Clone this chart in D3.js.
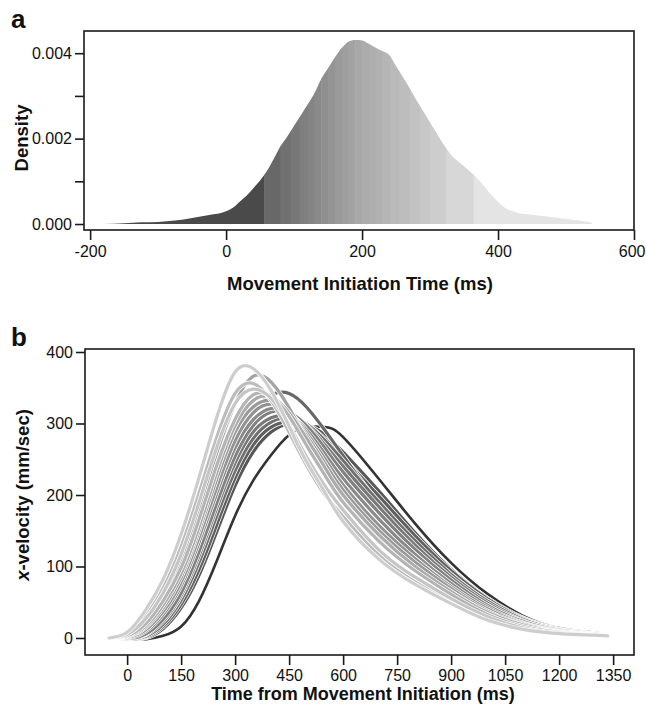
<!DOCTYPE html>
<html>
<head>
<meta charset="utf-8">
<script src="https://cdn.jsdelivr.net/npm/d3@7"></script>
<style>
  html, body { margin: 0; padding: 0; background: #fff; }
  svg text { font-family: "Liberation Sans", Arial, sans-serif; fill: #111; }
</style>
</head>
<body>
<svg id="chart" width="646" height="706"></svg>
<script>
// ---------- Panel a: density of movement initiation time ----------
const densityTimes = [-180, -150, -125, -100, -75, -50, -25, 0, 10, 20, 30, 40, 50, 60, 70, 80, 90, 100,
  110, 120, 130, 140, 150, 160, 170, 180, 190, 200, 210, 220, 230, 240, 250, 260, 270, 280, 290, 300,
  310, 320, 330, 340, 350, 360, 370, 380, 390, 400, 410, 420, 430, 450, 475, 500, 520, 538];
const densityValues = [0.00000, 0.00002, 0.00004, 0.00005, 0.00008, 0.00014, 0.00021, 0.00030, 0.00038,
  0.00052, 0.00066, 0.00084, 0.00102, 0.00124, 0.00152, 0.00182, 0.00205, 0.00230, 0.00255, 0.00280,
  0.00306, 0.00340, 0.00365, 0.00390, 0.00412, 0.00427, 0.00431, 0.00430, 0.00422, 0.00413, 0.00405,
  0.00396, 0.00370, 0.00344, 0.00318, 0.00290, 0.00264, 0.00238, 0.00212, 0.00186, 0.00164, 0.00148,
  0.00135, 0.00121, 0.00106, 0.00088, 0.00068, 0.00052, 0.00038, 0.00031, 0.00026, 0.00022, 0.00017,
  0.00012, 0.00008, 0.00003];
// band edges of the shaded initiation-time bins
const bandEdges = [-180, 56, 80, 95, 108, 120, 130, 140, 150, 160, 170, 180, 190, 200, 210, 220, 230,
  242, 255, 270, 285, 300, 324, 364, 540];
const densityTicksX = [-200, 0, 200, 400, 600];
const densityTicksY = [0, 0.001, 0.002, 0.003, 0.004];
const densityLabeledY = [0, 0.002, 0.004];

// ---------- Panel b: x-velocity profiles ----------
const velTimes = [-50, 0, 50, 100, 150, 200, 250, 300, 350, 400, 450, 500, 550, 600, 700, 800, 900, 1000, 1100, 1200, 1335];
// rank of initiation-time bin for each curve (0 = earliest / darkest)
const curveBins = [0, 1, 2, 3, 4, 5, 6, 7, 8, 9, 10, 11, 12, 13, 14, 15];
const curveValues = [
  [0, -2, -2, 3, 16, 52, 109, 171, 220, 256, 284, 295, 295, 281, 222, 160, 105, 62, 31, 14, 5],
  [0, -2, 0, 13, 42, 88, 150, 213, 260, 288, 300, 298, 284, 260, 205, 147, 96, 56, 28, 13, 5],
  [0, -2, 1, 16, 47, 96, 160, 224, 270, 295, 303, 298, 278, 252, 198, 143, 94, 55, 27, 12, 5],
  [0, 0, 7, 30, 70, 131, 202, 268, 316, 340, 342, 322, 290, 255, 188, 135, 88, 51, 25, 12, 4],
  [0, -2, 2, 19, 53, 106, 172, 234, 279, 302, 308, 299, 276, 248, 190, 136, 89, 52, 26, 12, 4],
  [0, -1, 4, 23, 59, 115, 183, 245, 288, 308, 311, 297, 270, 240, 183, 130, 85, 49, 24, 11, 4],
  [0, -1, 5, 26, 63, 121, 190, 254, 297, 316, 315, 296, 265, 232, 175, 124, 81, 46, 23, 11, 4],
  [0, 0, 9, 33, 73, 134, 204, 266, 305, 321, 314, 290, 257, 223, 166, 117, 76, 43, 21, 10, 4],
  [0, 1, 11, 37, 78, 141, 212, 276, 315, 327, 315, 286, 250, 214, 157, 111, 72, 41, 20, 9, 4],
  [0, 2, 14, 42, 85, 150, 224, 288, 323, 332, 315, 282, 244, 207, 150, 106, 69, 38, 19, 9, 4],
  [0, 4, 22, 58, 108, 180, 260, 328, 366, 358, 322, 276, 233, 194, 138, 96, 62, 34, 17, 8, 3],
  [0, 2, 16, 46, 90, 156, 233, 297, 332, 337, 315, 278, 238, 200, 144, 100, 65, 36, 18, 8, 3],
  [0, 3, 19, 52, 98, 166, 243, 306, 340, 338, 310, 268, 227, 190, 135, 94, 61, 33, 16, 8, 3],
  [0, 6, 30, 70, 128, 203, 282, 342, 356, 332, 288, 240, 200, 170, 116, 79, 51, 27, 13, 6, 3],
  [0, 5, 26, 63, 117, 190, 268, 328, 348, 335, 298, 252, 212, 179, 123, 85, 55, 30, 14, 7, 3],
  [0, 8, 38, 82, 145, 225, 310, 372, 377, 346, 296, 245, 203, 163, 110, 75, 48, 25, 12, 6, 3]
];
const velTicksX = [0, 150, 300, 450, 600, 750, 900, 1050, 1200, 1350];
const velTicksY = [0, 100, 200, 300, 400];

// ---------- drawing ----------
const svg = d3.select("#chart");
const frameColor = "#1a1a1a";
const tickFont = 16;
const titleFont = 18.5;

function styleAxis(g) {
  g.select(".domain").remove();
  g.selectAll(".tick line").attr("stroke", frameColor).attr("stroke-width", 1.6);
  g.selectAll(".tick text").attr("font-size", tickFont).attr("fill", "#111");
}

// Panel a
const xA = d3.scaleLinear().domain([-209, 600]).range([84, 634]);
const yA = d3.scaleLinear().domain([-0.00014, 0.00452]).range([230, 31]);

const densData = densityTimes.map((t, i) => ({t, d: densityValues[i]}));
const area = d3.area().x(p => xA(p.t)).y0(yA(0)).y1(p => yA(p.d)).curve(d3.curveMonotoneX);

svg.append("defs").append("clipPath").attr("id", "densClip")
  .append("path").attr("d", area(densData));

const bandColor = d3.scaleLinear()
  .domain([-60, 70, 190, 340, 450])
  .range(["#4a4a4a", "#686868", "#a6a6a6", "#d6d6d6", "#e4e4e4"]);

const bands = d3.pairs(bandEdges);
svg.append("g").attr("clip-path", "url(#densClip)")
  .selectAll("rect").data(bands).join("rect")
  .attr("x", b => xA(b[0]))
  .attr("width", b => xA(b[1]) - xA(b[0]) + 0.5)
  .attr("y", yA(0.0046))
  .attr("height", yA(0) - yA(0.0046))
  .attr("fill", b => bandColor((b[0] + b[1]) / 2));

svg.append("rect").attr("x", 84).attr("y", 31).attr("width", 550).attr("height", 199)
  .attr("fill", "none").attr("stroke", frameColor).attr("stroke-width", 1.6);

const axA_y = svg.append("g").attr("transform", "translate(84,0)")
  .call(d3.axisLeft(yA).tickValues(densityTicksY).tickSize(9).tickPadding(3)
    .tickFormat(d => densityLabeledY.some(v => Math.abs(v - d) < 1e-9) ? d3.format(".3f")(d) : ""));
styleAxis(axA_y);

const axA_x = svg.append("g").attr("transform", "translate(0,230)")
  .call(d3.axisBottom(xA).tickValues(densityTicksX).tickSize(10).tickPadding(6).tickFormat(d => String(d)));
styleAxis(axA_x);
// keep the last label inside the page edge
axA_x.selectAll(".tick text").filter(d => d === densityTicksX[densityTicksX.length - 1])
  .attr("text-anchor", "end").attr("dx", "11px");

svg.append("text").attr("x", 11).attr("y", 28).attr("font-size", 26).attr("font-weight", "bold").text("a");
svg.append("text").attr("transform", "translate(28,138) rotate(-90)").attr("text-anchor", "middle")
  .attr("font-size", titleFont).attr("font-weight", "bold").text("Density");
svg.append("text").attr("x", 360).attr("y", 290).attr("text-anchor", "middle")
  .attr("font-size", titleFont).attr("font-weight", "bold").text("Movement Initiation Time (ms)");

// Panel b
const xB = d3.scaleLinear().domain([-117, 1408]).range([85, 634]);
const yB = d3.scaleLinear().domain([-23.8, 404.2]).range([655, 349]);
const shade = d3.scaleLinear().domain([0, 1, 15]).range(["#333333", "#575757", "#cdcdcd"]);

const line = d3.line().x(p => xB(p[0])).y(p => yB(p[1])).curve(d3.curveNatural);
const curves = curveValues.map((vals, i) => ({bin: curveBins[i], pts: velTimes.map((t, j) => [t, vals[j]])}));
curves.sort((a, b) => a.bin - b.bin);

const gCurves = svg.append("g");
curves.forEach(c => {
  gCurves.append("path").attr("d", line(c.pts)).attr("fill", "none")
    .attr("stroke", "#fff").attr("stroke-width", c.bin === 0 ? 4 : 4.6).attr("stroke-linecap", "round");
  gCurves.append("path").attr("d", line(c.pts)).attr("fill", "none")
    .attr("stroke", shade(c.bin)).attr("stroke-width", c.bin === 0 ? 2.6 : 3.2).attr("stroke-linecap", "round");
});

svg.append("rect").attr("x", 85).attr("y", 349).attr("width", 549).attr("height", 306)
  .attr("fill", "none").attr("stroke", frameColor).attr("stroke-width", 1.6);

const axB_y = svg.append("g").attr("transform", "translate(85,0)")
  .call(d3.axisLeft(yB).tickValues(velTicksY).tickSize(9).tickPadding(3).tickFormat(d => String(d)));
styleAxis(axB_y);

const axB_x = svg.append("g").attr("transform", "translate(0,655)")
  .call(d3.axisBottom(xB).tickValues(velTicksX).tickSize(10).tickPadding(5).tickFormat(d => String(d)));
styleAxis(axB_x);

svg.append("text").attr("x", 11).attr("y", 346).attr("font-size", 26).attr("font-weight", "bold").text("b");
const yt = svg.append("text").attr("transform", "translate(29,495) rotate(-90)").attr("text-anchor", "middle")
  .attr("font-size", titleFont).attr("font-weight", "bold");
yt.append("tspan").attr("font-style", "italic").text("x");
yt.append("tspan").text("-velocity (mm/sec)");
svg.append("text").attr("x", 363).attr("y", 700).attr("text-anchor", "middle")
  .attr("font-size", 18).attr("font-weight", "bold").text("Time from Movement Initiation (ms)");
</script>
</body>
</html>
